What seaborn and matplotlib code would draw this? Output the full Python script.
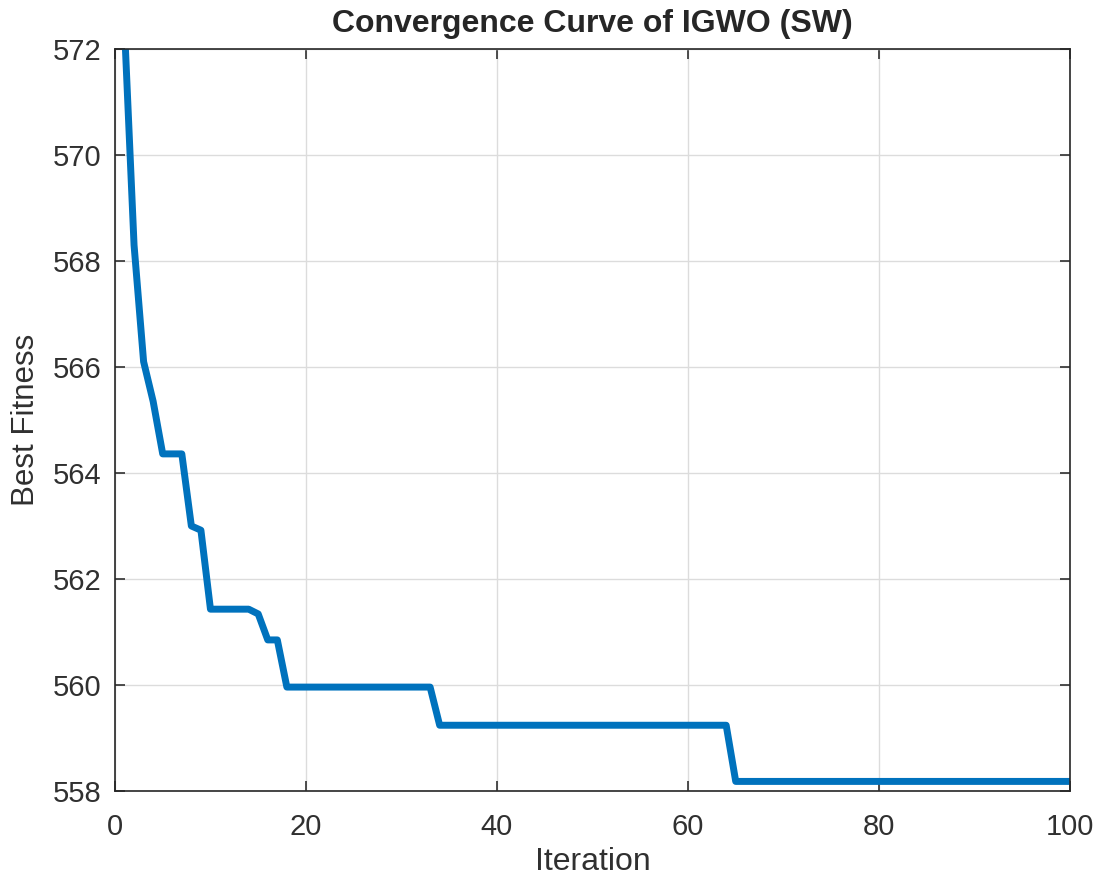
import matplotlib
matplotlib.use("Agg")
import matplotlib.pyplot as plt
import pandas as pd
import seaborn as sns

sns.set_theme(style="white")
plt.rcParams["font.family"] = ["Liberation Sans", "DejaVu Sans"]

# best fitness per iteration
iterations = list(range(1, 101))
best_fitness = (
    [572.4, 568.3, 566.1, 565.35]
    + [564.36] * 3
    + [563.0, 562.92]
    + [561.43] * 5
    + [561.34]
    + [560.85] * 2
    + [559.96] * 16
    + [559.24] * 31
    + [558.18] * 36
)

df = pd.DataFrame({"Iteration": iterations, "Best Fitness": best_fitness})

fig = plt.figure(figsize=(10.99, 8.81), dpi=100)
ax = fig.add_axes([0.1046, 0.1022, 0.8690, 0.8422])

sns.lineplot(data=df, x="Iteration", y="Best Fitness", color="#0072BD", linewidth=5, ax=ax)

ax.set_xlim(0, 100)
ax.set_ylim(558, 572)
ax.set_xticks([0, 20, 40, 60, 80, 100])
ax.set_yticks([558, 560, 562, 564, 566, 568, 570, 572])
ax.grid(True, color="#dcdcdc", linewidth=1)
ax.set_axisbelow(True)
ax.tick_params(direction="in", length=7, width=1.2, colors="#303030",
               labelsize=21, top=True, right=True, bottom=True, left=True)
ax.tick_params(axis="x", pad=16)
ax.tick_params(axis="y", pad=10)
for s in ax.spines.values():
    s.set_color("#262626")
    s.set_linewidth(1.2)

ax.set_title("Convergence Curve of IGWO (SW)", fontsize=23, fontweight="bold", pad=12)
ax.set_xlabel("Iteration", fontsize=23, color="#303030", labelpad=4)
ax.set_ylabel("Best Fitness", fontsize=22.5, color="#303030", labelpad=8)

fig.savefig("out.png", dpi=100, facecolor="white")
plt.close()
